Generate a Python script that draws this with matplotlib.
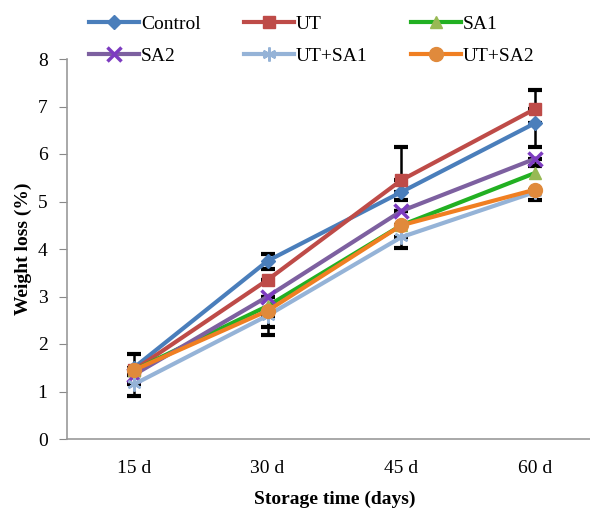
import matplotlib
matplotlib.use("Agg")
import matplotlib.pyplot as plt
import numpy as np

plt.rcParams['font.family'] = ['Liberation Serif', 'DejaVu Serif']

categories = ["15 d", "30 d", "45 d", "60 d"]
series_names = ["Control", "UT", "SA1", "SA2", "UT+SA1", "UT+SA2"]

control = [1.50, 3.75, 5.20, 6.65]
ut = [1.45, 3.35, 5.45, 6.95]
sa1 = [1.45, 2.80, 4.50, 5.60]
sa2 = [1.35, 3.00, 4.80, 5.90]
ut_sa1 = [1.15, 2.60, 4.25, 5.20]
ut_sa2 = [1.45, 2.70, 4.50, 5.25]

# error bars (lower, upper)
control_err = [[0.00, 0.18, 0.16, 0.50], [0.30, 0.15, 0.00, 0.00]]
ut_err = [[0.00, 0.00, 0.00, 0.00], [0.00, 0.00, 0.70, 0.40]]
sa1_err = [[0.00, 0.00, 0.00, 0.00], [0.00, 0.00, 0.00, 0.00]]
sa2_err = [[0.00, 0.00, 0.00, 0.15], [0.00, 0.00, 0.00, 0.00]]
ut_sa1_err = [[0.25, 0.40, 0.22, 0.17], [0.00, 0.00, 0.00, 0.00]]
ut_sa2_err = [[0.00, 0.35, 0.00, 0.00], [0.00, 0.00, 0.00, 0.00]]

values = [control, ut, sa1, sa2, ut_sa1, ut_sa2]
errors = [control_err, ut_err, sa1_err, sa2_err, ut_sa1_err, ut_sa2_err]
line_colors = ["#4A7EBB", "#BE4B48", "#22B022", "#7D60A0", "#95B3D7", "#F07F22"]
marker_colors = ["#4A7EBB", "#BE4B48", "#98B954", "#7D3CC0", "#95B3D7", "#E08A3C"]
markers = ["D", "s", "^", "x", (6, 2, 0), "o"]
msizes = [7, 9, 9, 10, 10, 10]

fig = plt.figure(figsize=(5.90, 5.09), dpi=100)
ax = fig.add_axes([67/590, 1-439/509, (602-67)/590, (439-59)/509])

x = np.arange(len(categories))
handles = []
for name, v, e, lc, mc, m, ms in zip(series_names, values, errors, line_colors, marker_colors, markers, msizes):
    e = np.array(e)
    if e.sum() > 0:
        ax.errorbar(x, v, yerr=e, fmt='none', ecolor='black', elinewidth=1.8,
                    capsize=5, capthick=3, zorder=2)
    mew = 2.5 if m == "x" else (1.8 if isinstance(m, tuple) else 1)
    h, = ax.plot(x, v, color=lc, lw=3, marker=m, markersize=ms,
                 markerfacecolor=mc, markeredgecolor=mc, markeredgewidth=mew,
                 label=name, zorder=3)
    handles.append(h)

ax.set_xlim(-0.5, 3.5)
ax.set_ylim(0, 8)
ax.set_yticks(range(0, 9))
ax.set_xticks(x)
ax.set_xticklabels(categories)
ax.tick_params(axis='x', length=0, labelsize=14, pad=15)
ax.tick_params(axis='y', direction='out', length=6, color='#888888', labelsize=14, pad=8)
for s in ['top', 'right']:
    ax.spines[s].set_visible(False)
for s in ['left', 'bottom']:
    ax.spines[s].set_color('#999999')
    ax.spines[s].set_linewidth(1.2)

ax.set_xlabel("Storage time (days)", fontsize=14, fontweight='bold', labelpad=10)
ax.set_ylabel("Weight loss (%)", fontsize=14, fontweight='bold', labelpad=4)

# legend filled row-wise: reorder for column-major filling
order = [0, 3, 1, 4, 2, 5]
fig.legend(handles=[handles[i] for i in order], labels=[series_names[i] for i in order],
           ncol=3, loc='upper left', bbox_to_anchor=(77/590, 1 - 4/509), frameon=False, fontsize=14,
           handlelength=2.6, handletextpad=0.1, columnspacing=2.2,
           labelspacing=0.7, borderaxespad=0.2)

fig.savefig("out.png", dpi=100)
